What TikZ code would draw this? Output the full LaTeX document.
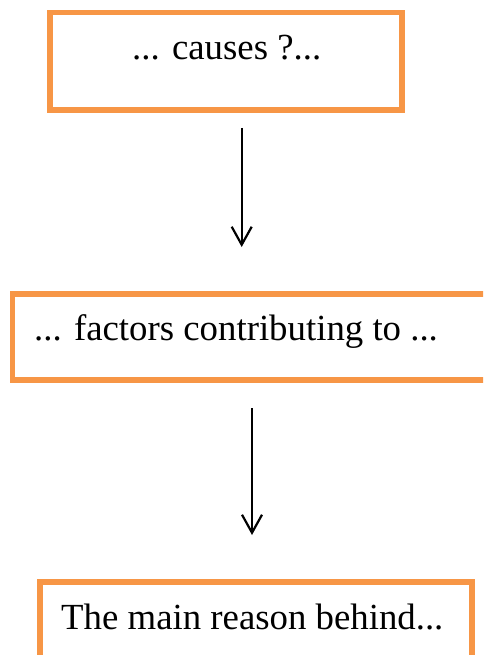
\documentclass[tikz,border=0pt]{standalone}
\usepackage{fontspec}
\setmainfont{Liberation Serif}
\usetikzlibrary{arrows.meta}
\definecolor{boxorange}{HTML}{F79646}
\tikzset{
  box/.style={draw=boxorange, line width=5.5pt, rectangle, inner sep=0pt},
  label/.style={inner sep=0pt, anchor=base west, font=\fontsize{36.8pt}{44pt}\selectfont},
  flow/.style={line width=2.2pt, -{Straight Barb[length=18pt,width=20pt,line width=2.2pt]}}
}
\begin{document}
\begin{tikzpicture}[x=1pt,y=-1pt]
\useasboundingbox (0,0) rectangle (483,655);
\clip (0,0) rectangle (483,655);
\fill[white] (0,0) rectangle (483,655);
% boxes
\node[box, minimum width=352pt, minimum height=97.5pt] (b1) at (226,61.25) {};
\node[box, minimum width=487.5pt, minimum height=86pt] (b2) at (256.25,337) {};
\node[box, minimum width=432pt, minimum height=118pt] (b3) at (256,641) {};
% texts
\node[label] (t1) at (132,59.5) {... causes ?...};
\node[label] (t2) at (34,340) {... factors contributing to ...};
\node[label] (t3) at (61,629) {The main reason behind...};
% arrows
\coordinate (a1s) at (241.7,128);
\coordinate (a1e) at (241.7,247);
\coordinate (a2s) at (252,408);
\coordinate (a2e) at (252,535);
\draw[flow] (a1s) -- (a1e);
\draw[flow] (a2s) -- (a2e);
\end{tikzpicture}
\end{document}
